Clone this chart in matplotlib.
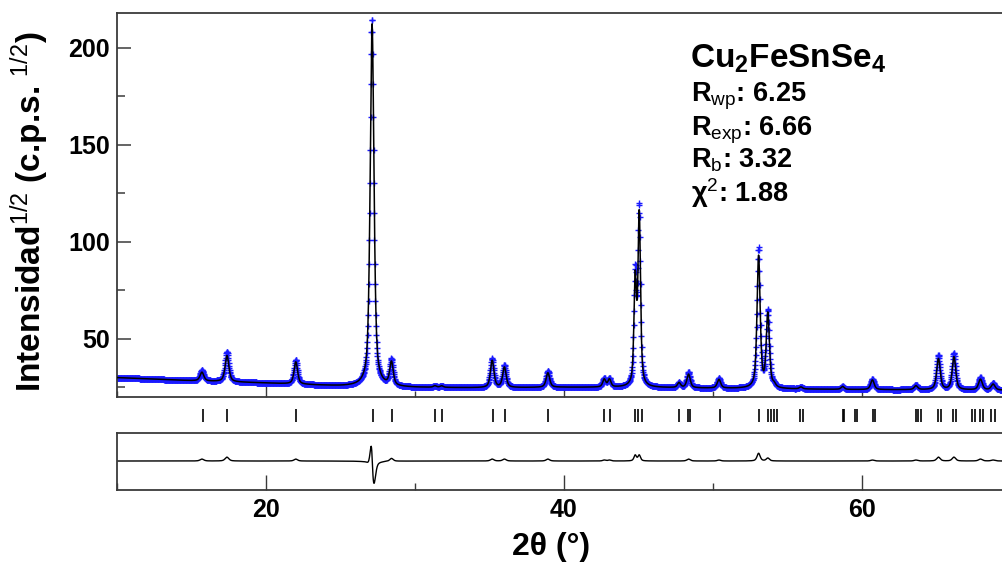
import numpy as np
import matplotlib
matplotlib.use("Agg")
import matplotlib.pyplot as plt
from matplotlib.ticker import MultipleLocator, NullLocator

plt.rcParams['font.family'] = ['Liberation Sans', 'DejaVu Sans']
plt.rcParams['mathtext.fontset'] = 'custom'
plt.rcParams['mathtext.rm'] = 'Liberation Sans'
plt.rcParams['mathtext.bf'] = 'Liberation Sans:bold'
plt.rcParams['mathtext.default'] = 'rm'

# ---- refinement data -------------------------------------------------------
# background level (sqrt counts) at anchor angles
bg_2theta = [10, 15, 20, 25, 30, 35, 40, 45, 50, 55, 60, 65, 70]
bg_level = [30.0, 28.4, 27.2, 25.6, 24.9, 24.7, 25.0, 24.9, 24.5, 24.1, 23.8, 23.7, 23.5]

# reflections: position, FWHM, calculated and observed heights above background
peak_pos = [15.70, 17.38, 22.00, 27.12, 28.42, 31.34, 31.79, 35.18, 36.00, 38.92,
            42.70, 43.05, 44.78, 45.05, 47.72, 48.36, 50.40, 53.06, 53.68, 54.10,
            55.90, 58.70, 60.70, 63.62, 65.13, 66.17, 67.95, 68.80]
peak_fwhm = [0.30, 0.30, 0.28, 0.30, 0.28, 0.25, 0.25, 0.28, 0.28, 0.28,
             0.24, 0.24, 0.20, 0.20, 0.25, 0.27, 0.27, 0.25, 0.25, 0.25,
             0.25, 0.25, 0.28, 0.28, 0.28, 0.28, 0.30, 0.30]
calc_height = [4.5, 13.5, 11.5, 187.0, 12.0, 0.8, 0.8, 14.0, 10.5, 7.5,
               4.0, 4.0, 54.0, 88.0, 2.5, 7.0, 4.5, 68.0, 38.0, 1.5,
               1.0, 1.5, 5.0, 2.0, 16.0, 17.0, 5.5, 3.0]
obs_height = [5.5, 15.5, 12.5, 190.0, 13.5, 0.8, 0.8, 15.0, 11.5, 8.5,
              4.5, 4.5, 57.0, 91.0, 2.5, 8.0, 5.0, 72.0, 39.5, 1.5,
              1.0, 1.5, 5.5, 2.5, 18.0, 19.0, 6.5, 3.5]
# observed profile of the strongest reflection (slightly sharper, shifted)
main_obs_pos = 27.11
main_obs_fwhm = 0.285

# Bragg positions of Cu2FeSnSe4
bragg_pos = [15.75, 17.40, 21.99, 27.16, 28.43, 31.34, 31.79, 35.21, 36.04, 38.95,
             42.70, 43.09, 44.77, 44.99, 45.21, 47.74, 48.34, 48.46, 50.47,
             53.11, 53.71, 53.87, 54.09, 54.32, 55.84, 56.06, 58.70, 58.78,
             59.53, 59.69, 60.76, 60.87, 63.62, 63.78, 63.94, 65.13, 65.28,
             66.13, 66.31, 67.41, 67.58, 67.95, 68.12, 68.69, 68.93]

stats_label = [r"R$_{\mathrm{wp}}$: 6.25", r"R$_{\mathrm{exp}}$: 6.66",
               r"R$_{\mathrm{b}}$: 3.32", r"χ$^{2}$: 1.88"]
compound = r"Cu$_{\mathbf{2}}$FeSnSe$_{\mathbf{4}}$"


def pseudo_voigt(x, x0, fwhm, eta=0.6):
    u = (x - x0) / fwhm
    return eta / (1 + 4 * u ** 2) + (1 - eta) * np.exp(-4 * np.log(2) * u ** 2)


tt = np.arange(10.0, 70.0001, 0.02)
background = np.interp(tt, bg_2theta, bg_level)
y_calc = background.copy()
y_obs = background.copy()
for i, p in enumerate(peak_pos):
    y_calc += calc_height[i] * pseudo_voigt(tt, p, peak_fwhm[i])
    if i == 3:
        y_obs += obs_height[i] * pseudo_voigt(tt, main_obs_pos, main_obs_fwhm)
    else:
        y_obs += obs_height[i] * pseudo_voigt(tt, p, peak_fwhm[i])
y_diff = y_obs - y_calc

# ---- figure ----------------------------------------------------------------
W, H = 1003, 569
fig = plt.figure(figsize=(W / 100, H / 100), dpi=100)


def frac_box(x0, y0, x1, y1):
    return [x0 / W, 1 - y1 / H, (x1 - x0) / W, (y1 - y0) / H]


spine_col = '#3a3a3a'
ax = fig.add_axes(frac_box(117, 13, 1011, 397))
axt = fig.add_axes(frac_box(117, 409, 1011, 422), sharex=ax)
axd = fig.add_axes(frac_box(117, 433, 1011, 490), sharex=ax)

ax.plot(tt, y_obs, linestyle='none', marker='+', ms=4.5, mew=1.0,
        color='#1a1aff', zorder=2)
ax.plot(tt, y_calc, color='black', lw=1.1, zorder=3)
ax.set_xlim(10, 70)
ax.set_ylim(20, 218)

ax.yaxis.set_major_locator(MultipleLocator(50))
ax.yaxis.set_minor_locator(MultipleLocator(25))
ax.xaxis.set_major_locator(MultipleLocator(20))
ax.xaxis.set_minor_locator(MultipleLocator(10))
ax.tick_params(axis='y', which='major', direction='in', length=10, width=1.1,
               color=spine_col, pad=5, labelsize=18)
ax.tick_params(axis='y', which='minor', direction='in', length=5.5, width=1.1,
               color=spine_col)
ax.tick_params(axis='x', which='major', direction='in', length=8, width=1.0,
               color=spine_col, labelbottom=False)
ax.tick_params(axis='x', which='minor', direction='in', length=4, width=1.0,
               color=spine_col)
for lab in ax.get_yticklabels():
    lab.set_fontweight('bold')

# Bragg reflection markers
axt.vlines(bragg_pos, 0, 1, color='black', lw=1.2)
axt.set_ylim(0, 1)
axt.axis('off')

# difference curve
axd.plot(tt, y_diff, color='black', lw=1.0)
axd.set_ylim(-15, 14.5)
axd.yaxis.set_major_locator(NullLocator())
axd.tick_params(axis='x', which='major', direction='in', length=11, width=1.0,
                color=spine_col, pad=6, labelsize=18)
axd.tick_params(axis='x', which='minor', direction='in', length=5, width=1.0,
                color=spine_col)
for lab in axd.get_xticklabels():
    lab.set_fontweight('bold')

for a in (ax, axd):
    for s in a.spines.values():
        s.set_color(spine_col)
        s.set_linewidth(1.3)

fig.text(30 / W, 1 - 212 / H, r"Intensidad$^{1/2}$ (c.p.s. $^{1/2}$)",
         rotation=90, ha='center', va='center', fontsize=24, fontweight='bold')
fig.text(551 / W, 1 - 555 / H, "2θ (°)", ha='center', va='baseline',
         fontsize=23, fontweight='bold')

fig.text(690 / W, 1 - 68 / H, compound, ha='left', va='baseline',
         fontsize=24, fontweight='bold')
for txt, yb in zip(stats_label, [102, 135, 168, 202]):
    fig.text(691 / W, 1 - yb / H, txt, ha='left', va='baseline',
             fontsize=19.5, fontweight='bold')

fig.savefig('out.png', dpi=100)
